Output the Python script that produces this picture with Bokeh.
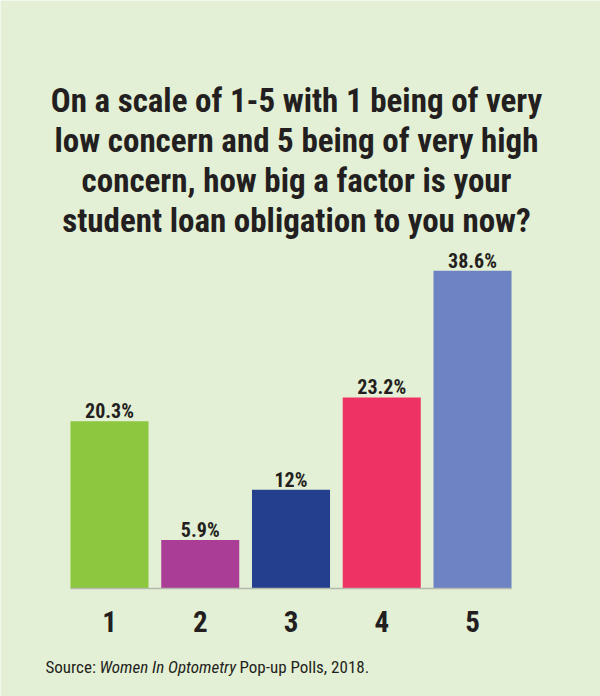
from bokeh.plotting import figure
from bokeh.models import ColumnDataSource, Range1d
from bokeh.core.properties import value
from bokeh.embed import file_html
from bokeh.resources import INLINE

# ---- data ----
categories = [1, 2, 3, 4, 5]
tick_labels = ["1", "2", "3", "4", "5"]
percentages = [20.3, 5.9, 12.0, 23.2, 38.6]
value_labels = ["20.3%", "5.9%", "12%", "23.2%", "38.6%"]
bar_colors = ["#8dc63f", "#aa3e96", "#233f8e", "#ef3264", "#6d83c3"]
title_lines = [
    "On a scale of 1-5 with 1 being of very",
    "low concern and 5 being of very high",
    "concern, how big a factor is your",
    "student loan obligation to you now?",
]
source_parts = ["Source:", "Women In Optometry", "Pop-up Polls, 2018."]

# ---- layout helpers (page pixel -> data) ----
W, H = 600, 696
PX_PER_CAT = 90.75
PX_PER_PCT = 8.235
X0_PAGE = 109.0   # page x of category 1
Y0_PAGE = 588.0   # page y of the baseline


def xd(px):
    return 1 + (px - X0_PAGE) / PX_PER_CAT


def yd(py):
    return (Y0_PAGE - py) / PX_PER_PCT


BG = "#e3f0d5"
FONT = "Roboto Condensed, DejaVu Sans Condensed, Liberation Sans Narrow, Roboto"

p = figure(width=W, height=H, output_backend="svg", toolbar_location=None,
           x_range=Range1d(xd(0), xd(W)), y_range=Range1d(yd(H), yd(0)),
           x_axis_location=None, y_axis_location=None, min_border=0,
           background_fill_color=BG, border_fill_color=BG, outline_line_color=None)
p.grid.visible = False

src = ColumnDataSource(dict(x=categories, top=percentages, color=bar_colors,
                            lab=value_labels, tick=tick_labels,
                            zero=[0] * len(categories)))

bar_w = 0.86
p.vbar(x="x", top="top", bottom=0, width=bar_w, fill_color="color",
       line_color=None, source=src)

# baseline
p.segment(x0=[min(categories) - bar_w / 2], x1=[max(categories) + bar_w / 2],
          y0=[0], y1=[0], line_color="#b3b9ad", line_width=1.5)

# value labels
p.text(x="x", y="top", text="lab", source=src, text_align="center",
       text_baseline="alphabetic", y_offset=-10, text_font=value(FONT),
       text_font_style="bold", text_font_size="20px", text_color="#231f20")

# category labels
p.text(x="x", y="zero", text="tick", source=src, text_align="center",
       text_baseline="alphabetic", y_offset=33, text_font=value(FONT),
       text_font_style="bold", text_font_size="29px", text_color="#231f20")

# title
title_base = [99.5, 139.5, 179.5, 219.5]
p.text(x=[xd(296)] * 4, y=[yd(b) for b in title_base], text=title_lines,
       text_align="center", text_baseline="alphabetic", text_font=value(FONT),
       text_font_style="bold", text_font_size="33px", text_color="#231f20")

# source
src_x = [45, 99, 239]
src_styles = ["normal", "italic", "normal"]
for sx, part, st in zip(src_x, source_parts, src_styles):
    p.text(x=[xd(sx)], y=[yd(666)], text=[part], text_align="left",
           text_baseline="alphabetic", text_font=value(FONT),
           text_font_style=st, text_font_size="17px", text_color="#231f20")

open("out.html", "w").write(file_html(p, INLINE))
